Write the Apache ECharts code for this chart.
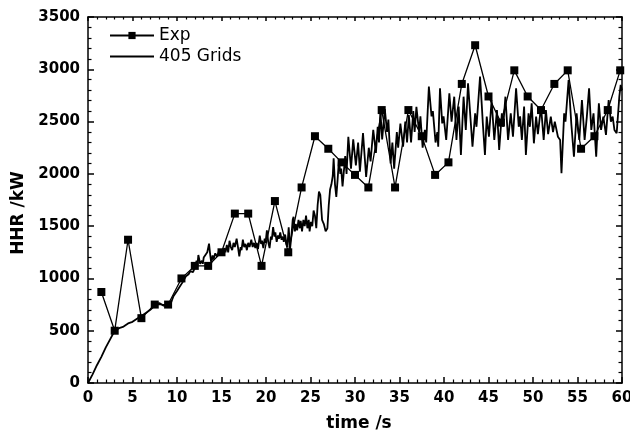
<!DOCTYPE html>
<html>
<head>
<meta charset="utf-8">
<script src="https://cdn.jsdelivr.net/npm/echarts/dist/echarts.min.js"></script>
<style>html,body{margin:0;padding:0;background:#fff}#c{width:630px;height:442px}</style>
</head>
<body>
<div id="c"></div>
<script>
// Experimental points [time s, HHR kW]
var expData = [
  [1.5,870],[3,500],[4.5,1370],[6,620],[7.5,750],[9,750],[10.5,1000],[12,1120],[13.5,1120],[15,1250],
  [16.5,1620],[18,1620],[19.5,1120],[21,1740],[22.5,1250],[24,1870],[25.5,2360],[27,2240],[28.5,2110],[30,1990],
  [31.5,1870],[33,2610],[34.5,1870],[36,2610],[37.5,2360],[39,1990],[40.5,2110],[42,2860],[43.5,3230],[45,2740],
  [46.4,2490],[47.9,2990],[49.4,2740],[50.9,2610],[52.4,2860],[53.9,2990],[55.4,2240],[56.9,2360],[58.4,2610],[59.8,2990]
];
// Simulation (405 Grids) [time s, HHR kW]
var simData = [
  [0,0],[0.5,80],[1,170],[1.5,250],[2,340],[2.5,420],[3,500],[3.5,525],[4,540],[4.5,570],[5,585],[5.5,615],
  [6,640],[6.5,670],[7,700],[7.5,740],[8,765],[8.5,740],[9,735],[9.3,760],[9.6,830],[10,880],[10.3,920],[10.6,960],
  [11,1020],[11.3,1040],[11.5,1070],[11.8,1060],[12,1100],[12.2,1170],[12.3,1130],[12.4,1224],[12.6,1140],[12.8,1170],
  [12.9,1140],[13.0,1200],[13.2,1190],[13.4,1250],[13.6,1333],[13.7,1250],[13.85,1147],[14.0,1220],[14.1,1180],[14.3,1240],
  [14.5,1210],[14.7,1260],[14.8,1220],[15,1260],[15.15,1230],[15.3,1290],[15.45,1250],[15.6,1320],[15.75,1250],[15.9,1360],
  [16.05,1300],[16.2,1270],[16.35,1340],[16.5,1300],[16.7,1380],[16.85,1300],[17,1210],[17.15,1300],[17.25,1270],[17.4,1370],
  [17.55,1300],[17.7,1330],[17.85,1270],[18.0,1340],[18.15,1300],[18.35,1370],[18.5,1300],[18.65,1340],[18.8,1290],[18.95,1340],
  [19.1,1280],[19.3,1410],[19.45,1330],[19.55,1360],[19.7,1290],[19.85,1380],[19.95,1340],[20.1,1460],[20.25,1350],[20.4,1290],
  [20.55,1400],[20.65,1370],[20.8,1490],[20.95,1400],[21.05,1440],[21.2,1350],[21.35,1410],[21.45,1380],[21.6,1440],[21.75,1370],
  [21.9,1400],[22.0,1350],[22.15,1420],[22.3,1330],[22.4,1300],[22.55,1490],[22.7,1280],[22.85,1400],[23.0,1560],[23.1,1590],
  [23.25,1450],[23.35,1520],[23.5,1460],[23.65,1560],[23.8,1480],[23.9,1550],[24.05,1450],[24.2,1560],[24.35,1500],[24.5,1600],
  [24.65,1480],[24.8,1560],[24.9,1450],[25.05,1540],[25.2,1500],[25.35,1650],[25.5,1600],[25.65,1480],[25.8,1700],[25.95,1830],
  [26.1,1800],[26.3,1560],[26.5,1520],[26.7,1450],[26.9,1480],[27.05,1700],[27.2,1850],[27.35,1900],[27.5,1980],[27.6,2150],
  [27.75,1900],[27.9,1780],[28.05,1950],[28.2,2140],[28.35,2000],[28.45,2050],[28.6,1880],
  [28.9,2170],[29.05,2000],[29.25,2355],[29.55,2050],[29.8,2330],[30.1,2080],[30.35,2300],[30.55,2020],[30.9,2390],[31.25,1970],
  [31.55,2250],[31.75,2120],[32.05,2420],[32.35,2200],[32.55,2450],[32.7,2300],[32.85,2600],[33.05,2330],[33.35,2620],[33.6,2400],
  [33.75,2520],[34.0,2100],[34.2,2300],[34.4,2050],[34.7,2400],[34.85,2250],[35.1,2480],[35.4,2260],[35.65,2500],[35.85,2300],
  [36.05,2563],[36.3,2300],[36.55,2600],[36.7,2400],[36.9,2640],[37.2,2400],[37.35,2550],[37.6,2250],[37.85,2420],[38.0,2300],
  [38.3,2834],[38.6,2550],[38.75,2600],[39.05,2300],[39.25,2400],[39.35,2260],[39.55,2818],[39.8,2483],[39.95,2550],[40.25,2324],
  [40.6,2770],[40.85,2500],[41.15,2738],[41.4,2324],[41.65,2643],[41.9,2180],[42.2,2738],[42.45,2420],[42.7,2866],[43.2,2260],
  [43.5,2579],[43.65,2450],[44.05,2930],[44.25,2650],[44.35,2500],[44.6,2180],[44.8,2547],[45.05,2355],[45.35,2706],[45.65,2324],
  [45.95,2611],[46.2,2228],[46.5,2579],[46.65,2450],[46.9,2738],[47.2,2324],[47.5,2579],[47.75,2355],[48.1,2818],[48.4,2450],
  [48.55,2550],[48.75,2324],[49.0,2643],[49.2,2180],[49.5,2579],[49.65,2450],[49.85,2675],[50.1,2292],[50.35,2547],[50.55,2380],
  [50.9,2643],[51.2,2324],[51.45,2611],[51.7,2380],[52.0,2547],[52.25,2400],[52.45,2500],[52.8,2355],[53.05,2324],[53.2,2005],
  [53.5,2579],[53.65,2500],[54.0,2898],[54.3,2483],[54.6,2164],[54.9,2579],[55.2,2324],[55.5,2706],[55.8,2324],[56.05,2547],
  [56.3,2818],[56.55,2420],[56.8,2579],[57.1,2164],[57.4,2675],[57.65,2420],[57.9,2547],[58.2,2372],[58.5,2706],[58.75,2500],
  [58.95,2547],[59.15,2420],[59.4,2388],[59.7,2738],[59.85,2850],[60,2800]
];
var seriesNames = ['Exp', '405 Grids'];
var xTitle = 'time /s';
var yTitle = 'HHR /kW';

var FONT = 'DejaVu Sans';
var tickLabel = {color:'#000', fontFamily:FONT, fontWeight:'bold', fontSize:15,
  formatter:function(v){return String(v);}};
function mkAxisX(pos, labels) {
  return {
    type:'value', min:0, max:60, interval:5, position:pos,
    axisLine:{show:true, onZero:false, lineStyle:{color:'#000', width:1.5}},
    axisTick:{show:true, inside:true, length: labels ? 6 : 4, lineStyle:{color:'#000', width:1.5}},
    minorTick:{show:true, splitNumber:5, length: labels ? 3.5 : 2.5, lineStyle:{color:'#000', width:1.2}},
    splitLine:{show:false}, minorSplitLine:{show:false},
    axisLabel: labels ? Object.assign({margin:8}, tickLabel) : {show:false}
  };
}
function mkAxisY(pos, labels) {
  return {
    type:'value', min:0, max:3500, interval:500, position:pos,
    axisLine:{show:true, onZero:false, lineStyle:{color:'#000', width:1.5}},
    axisTick:{show:true, inside:true, length:6, lineStyle:{color:'#000', width:1.5}},
    minorTick:{show:true, splitNumber:5, length:3.5, lineStyle:{color:'#000', width:1.2}},
    splitLine:{show:false}, minorSplitLine:{show:false},
    axisLabel: labels ? Object.assign({margin:8}, tickLabel) : {show:false}
  };
}
var xb = mkAxisX('bottom', true);
xb.name = xTitle; xb.nameLocation = 'middle'; xb.nameGap = 32;
xb.nameTextStyle = {color:'#000', fontFamily:FONT, fontWeight:'bold', fontSize:17, padding:[0,0,0,8]};
var yl = mkAxisY('left', true);
yl.name = yTitle; yl.nameLocation = 'middle'; yl.nameGap = 56;
yl.nameTextStyle = {color:'#000', fontFamily:FONT, fontWeight:'bold', fontSize:17, padding:[0,26,0,0]};

var chart = echarts.init(document.getElementById('c'), null, {renderer:'canvas'});
chart.setOption({
  animation:false,
  backgroundColor:'#fff',
  grid:{left:88, right:8, top:17, bottom:59, containLabel:false, outerBoundsMode:'none'},
  legend:{
    orient:'vertical', left:104, top:22, itemWidth:44, itemHeight:9, itemGap:4,
    textStyle:{color:'#000', fontFamily:FONT, fontSize:17},
    data:[{name:seriesNames[0]}, {name:seriesNames[1], itemStyle:{opacity:0}}]
  },
  xAxis:[xb, mkAxisX('top', false)],
  yAxis:[yl, mkAxisY('right', false)],
  series:[
    {name:seriesNames[1], type:'line', data:simData, showSymbol:false, symbol:'none',
     lineStyle:{color:'#000', width:1.8}, itemStyle:{color:'#000'}, z:2},
    {name:seriesNames[0], type:'line', data:expData, symbol:'rect', symbolSize:8,
     lineStyle:{color:'#000', width:1.3}, itemStyle:{color:'#000'}, z:3}
  ]
});
</script>
</body>
</html>
